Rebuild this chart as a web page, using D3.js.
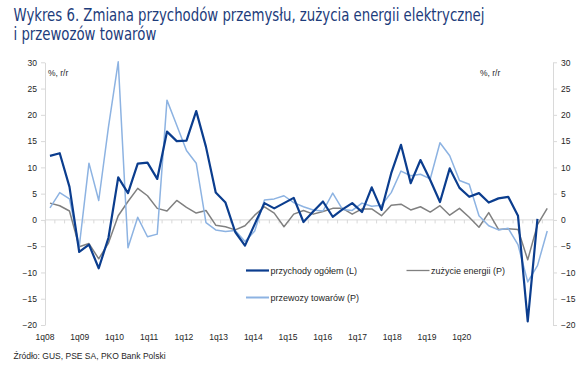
<!DOCTYPE html>
<html>
<head>
<meta charset="utf-8">
<script src="https://cdn.jsdelivr.net/npm/d3@7"></script>
<style>
  html, body { margin: 0; padding: 0; background: #fff; }
  svg { display: block; }
</style>
</head>
<body>
<svg id="chart" width="588" height="385"></svg>
<script>
// ---------------- DATA ----------------
const titleLines = [
  "Wykres 6. Zmiana przychodów przemysłu, zużycia energii elektrycznej",
  "i przewozów towarów"
];
const sourceText = "Źródło: GUS, PSE SA, PKO Bank Polski";
const unitLabel = "%, r/r";

const years = ["08","09","10","11","12","13","14","15","16","17","18","19","20"];
const categories = years.flatMap(y => ["1q","2q","3q","4q"].map(q => q + y));

const xTickLabels = ["1q08","1q09","1q10","1q11","1q12","1q13","1q14","1q15","1q16","1q17","1q18","1q19","1q20"];
const yTicks = [-20,-15,-10,-5,0,5,10,15,20,25,30];

// przychody ogółem (L)
const revenue = [12.2,12.7,6.3,-6.1,-4.7,-9.2,-3.4,8.1,5.1,10.7,10.9,7.8,16.8,15.0,15.1,20.7,13.9,5.2,3.3,-2.3,
  -4.9,-0.8,3.2,2.2,3.2,4.2,-0.4,1.6,3.5,0.6,2.0,3.2,1.5,6.2,1.9,8.9,14.3,7.0,11.4,7.6,
  3.4,9.8,6.1,4.4,5.1,3.3,4.1,4.4,0.8,-19.3,0.2];
// zużycie energii (P)
const energy = [3.2,2.7,1.7,-5.1,-4.5,-7.4,-4.4,0.8,3.5,6.0,4.6,2.2,1.7,3.7,2.4,1.3,1.8,-1.0,-1.3,-1.9,
  -1.1,0.9,2.5,1.3,-1.3,1.1,1.8,1.1,1.6,2.2,2.2,1.1,2.1,2.1,0.8,2.8,3.0,1.9,2.5,1.5,
  2.7,0.9,2.2,0.5,-1.4,1.4,-1.8,-1.7,-1.8,-7.6,-0.9,2.2];
// przewozy towarów (P)
const freight = [2.3,5.2,4.0,-5.1,10.8,3.7,17.7,30.1,-5.3,0.5,-3.2,-2.7,22.8,18.0,13.2,10.8,-0.5,-1.9,-2.2,-2.0,
  -4.1,-2.1,3.8,4.0,4.6,3.3,2.5,1.9,1.7,5.1,2.0,1.8,3.2,2.6,2.8,5.2,9.3,8.4,8.7,7.8,
  14.7,12.2,7.5,6.8,0.8,-1.1,-1.9,-1.6,-4.7,-11.8,-8.7,-2.1];

const seriesNames = ["przychody ogółem (L)", "zużycie energii (P)", "przewozy towarów (P)"];

// ---------------- LAYOUT ----------------
const svg = d3.select("#chart");
const C = { dark: "#0b3d8e", light: "#8db3e2", gray: "#808080", axis: "#d9d9d9", text: "#262626", title: "#1d3c7b" };
const plot = { left: 45, right: 553, top: 62.3, bottom: 325 };

const x = d3.scaleBand().domain(categories).range([45.1, 552.1]);
const xc = d => x(d) + x.bandwidth() / 2;
const xLab = d3.scalePoint().domain(xTickLabels).range([45, 461.7]);
const yL = d3.scaleLinear().domain([-20, 30]).range([plot.bottom, plot.top]);
const yR = d3.scaleLinear().domain([-20, 30]).range([plot.bottom, plot.top]);

// Title (compressed horizontally to the reference's narrow face)
const title = svg.append("g").attr("fill", C.title)
  .style("font-family", "'Liberation Sans Narrow','DejaVu Sans Condensed','Liberation Sans',sans-serif")
  .style("font-size", "17px");
const titleNodes = titleLines.map((t, i) =>
  title.append("text").attr("x", 13.5).attr("y", 20.5 + i * 19).text(t));
const w1 = titleNodes[0].node().getComputedTextLength();
const squeeze = Math.min(1, 471 / w1);
titleNodes.forEach(n => {
  const w = n.node().getComputedTextLength();
  n.attr("textLength", w * squeeze).attr("lengthAdjust", "spacingAndGlyphs");
});

// Axes
const tickFont = "'Liberation Sans', Arial, sans-serif";
function styleAxis(g) {
  g.select(".domain").attr("stroke", C.axis);
  g.selectAll(".tick line").attr("stroke", C.axis);
  g.selectAll(".tick text").attr("fill", C.text).style("font-family", tickFont).style("font-size", "8.5px");
}
svg.append("g").attr("transform", `translate(${plot.left},0)`)
  .call(d3.axisLeft(yL).tickValues(yTicks).tickSize(4).tickSizeOuter(0).tickPadding(4))
  .call(styleAxis);
svg.append("g").attr("transform", `translate(${plot.right},0)`)
  .call(d3.axisRight(yR).tickValues(yTicks).tickSize(4).tickSizeOuter(0).tickPadding(4))
  .call(styleAxis);

// Zero (category) axis line with ticks at category boundaries
const zeroY = yL(0);
svg.append("line").attr("x1", plot.left).attr("x2", plot.right).attr("y1", zeroY).attr("y2", zeroY)
  .attr("stroke", C.axis).attr("stroke-width", 1);
svg.append("g").selectAll("line").data(categories).join("line")
  .attr("x1", d => x(d)).attr("x2", d => x(d))
  .attr("y1", zeroY).attr("y2", zeroY + 3.5)
  .attr("stroke", C.axis);

// X labels
svg.append("g").selectAll("text").data(xTickLabels).join("text")
  .attr("x", d => xLab(d)).attr("y", 340)
  .attr("text-anchor", "middle")
  .attr("fill", C.text).style("font-family", tickFont).style("font-size", "8.5px")
  .text(d => d);

// Unit labels
[[48, "start"], [480, "start"]].forEach(([px, anchor]) => {
  svg.append("text").attr("x", px).attr("y", 76).attr("text-anchor", anchor)
    .attr("fill", C.text).style("font-family", tickFont).style("font-size", "8.5px").text(unitLabel);
});

// Lines
const lineL = d3.line().x((d, i) => xc(categories[i])).y(d => yL(d));
const lineR = d3.line().x((d, i) => xc(categories[i])).y(d => yR(d));
svg.append("path").datum(energy).attr("d", lineR).attr("fill", "none")
  .attr("stroke", C.gray).attr("stroke-width", 1.5).attr("stroke-linejoin", "round");
svg.append("path").datum(freight).attr("d", lineR).attr("fill", "none")
  .attr("stroke", C.light).attr("stroke-width", 1.5).attr("stroke-linejoin", "round");
svg.append("path").datum(revenue).attr("d", lineL).attr("fill", "none")
  .attr("stroke", C.dark).attr("stroke-width", 2.2).attr("stroke-linejoin", "round");

// Legend
const legendItems = [
  { name: seriesNames[0], color: C.dark, w: 2.2, x: 246, y: 270.5 },
  { name: seriesNames[1], color: C.gray, w: 1.3, x: 406.5, y: 270.5 },
  { name: seriesNames[2], color: C.light, w: 2, x: 246, y: 297.5 }
];
const lg = svg.append("g");
legendItems.forEach(it => {
  lg.append("line").attr("x1", it.x).attr("x2", it.x + 23).attr("y1", it.y).attr("y2", it.y)
    .attr("stroke", it.color).attr("stroke-width", it.w);
  lg.append("text").attr("x", it.x + 24.5).attr("y", it.y + 3.2)
    .attr("fill", C.text).style("font-family", tickFont).style("font-size", "9px").text(it.name);
});

// Source
svg.append("text").attr("x", 13.5).attr("y", 359)
  .attr("fill", C.text).style("font-family", tickFont).style("font-size", "8.5px").text(sourceText);
</script>
</body>
</html>
